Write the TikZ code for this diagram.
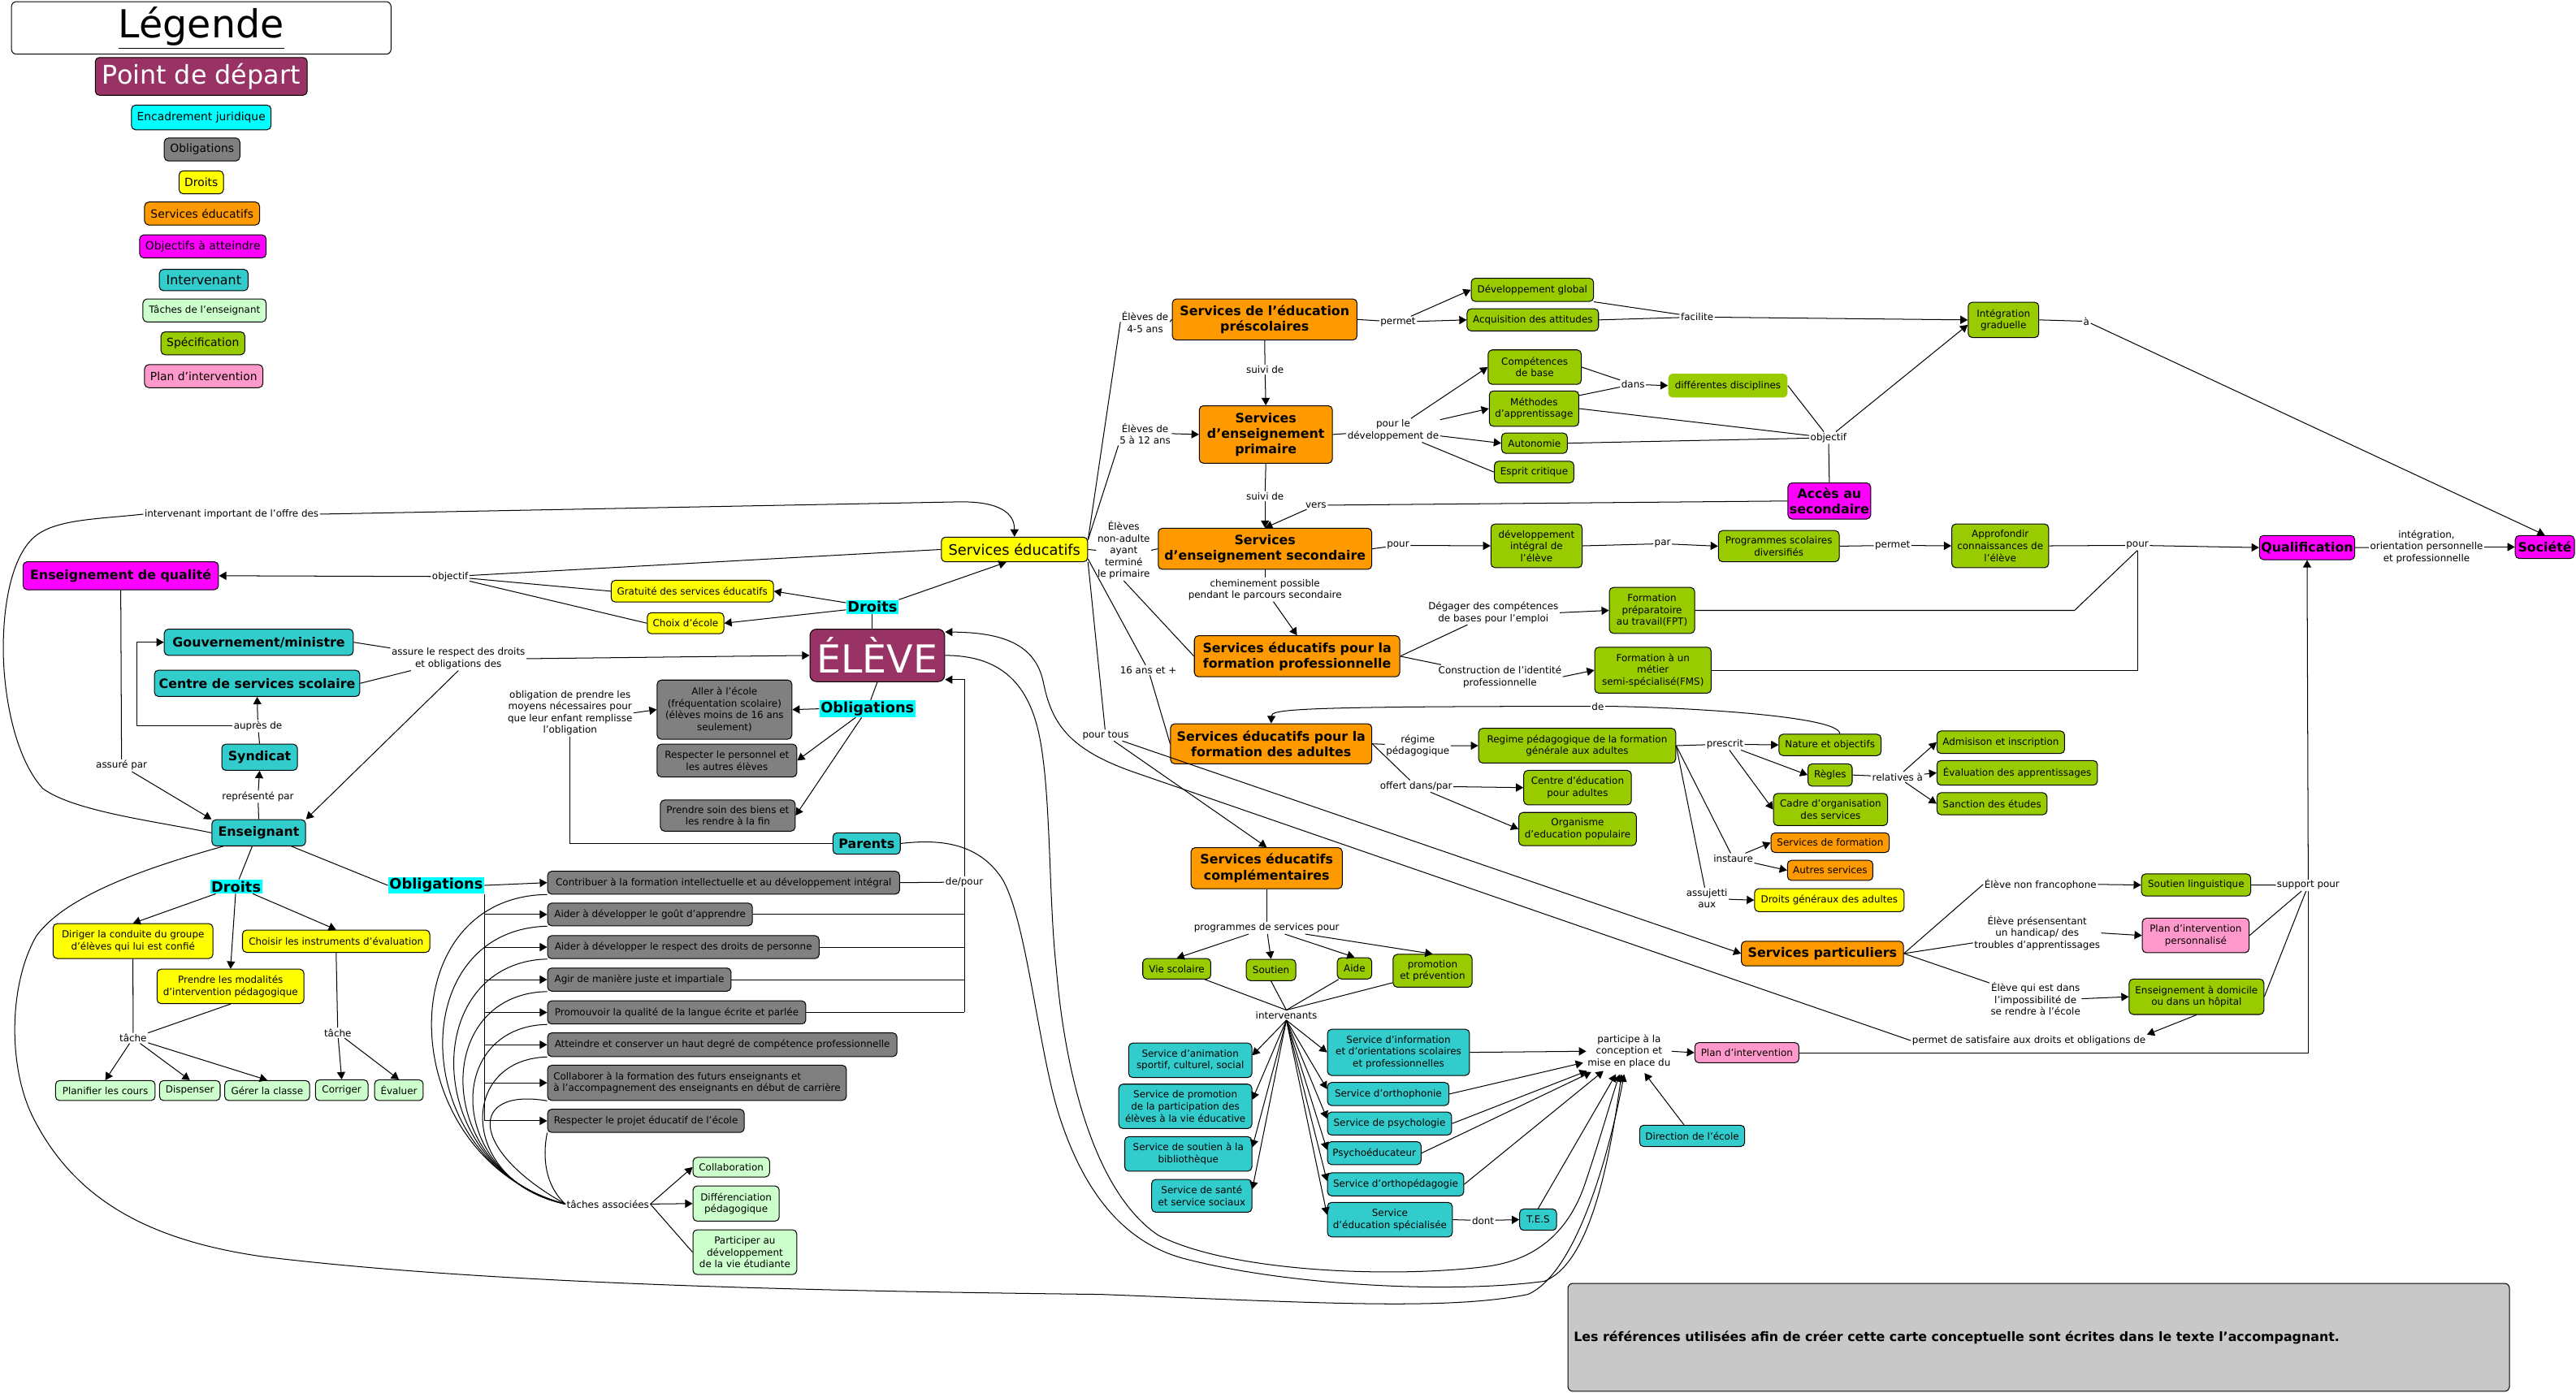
\documentclass[tikz,border=0pt]{standalone}
\usepackage{fontspec}
\setmainfont{DejaVu Sans}
\usetikzlibrary{arrows.meta,calc}
\definecolor{cmaroon}{RGB}{153,51,102}
\definecolor{ccyan}{RGB}{0,255,255}
\definecolor{cgray}{RGB}{128,128,128}
\definecolor{cyel}{RGB}{255,255,0}
\definecolor{corange}{RGB}{255,153,0}
\definecolor{cmag}{RGB}{255,0,255}
\definecolor{cteal}{RGB}{51,204,204}
\definecolor{clgreen}{RGB}{204,255,204}
\definecolor{cygreen}{RGB}{153,204,0}
\definecolor{cpink}{RGB}{255,153,204}
\definecolor{crefs}{RGB}{200,200,200}
\newcommand\fs{\fontsize{5.9}{7.2}\selectfont}
\newcommand\fb{\fontsize{7.84}{9.5}\selectfont\bfseries}
\newcommand\fl{\fontsize{6.86}{8.3}\selectfont}
\newcommand\ndx[7]{\node[#6,minimum width={(#4-#2)*1pt},minimum height={(#5-#3)*1pt}] (#1) at ({(#2+#4)/2},{(#3+#5)/2}) {#7};}
\newcommand\lbx[4]{\node[lbl] (#1) at (#2,#3) {#4};}
\tikzset{
  bx/.style={draw=black,line width=0.5pt,rounded corners=2.5pt,inner sep=1pt,align=center,font=\fs},
  bt/.style={bx,font=\fb},
  lbl/.style={fill=white,inner sep=0.6pt,align=center,font=\fs},
  hl/.style={fill=ccyan,inner sep=0.8pt,font=\fontsize{8.8}{10}\selectfont\bfseries},
  con/.style={line width=0.5pt},
  arr/.style={con,-{Triangle[length=4.5pt,width=5pt]}}
}
\begin{document}
\begin{tikzpicture}[x=1pt,y=-1pt]
\useasboundingbox (0,0) rectangle (1568,847.6);
% ---------------- legend
\ndx{legende}{7}{1}{238}{33}{bx,rounded corners=3pt,font=\fontsize{23.5}{26}\selectfont}{\underline{Légende}}
\ndx{pdd}{58}{35}{187}{58}{bx,fill=cmaroon,text=white,font=\fontsize{15.7}{18}\selectfont}{Point de départ}
\ndx{lg1}{80}{64}{165}{79}{bx,fill=ccyan,font=\fl}{Encadrement juridique}
\ndx{lg2}{100}{84}{146}{98}{bx,fill=cgray,font=\fl}{Obligations}
\ndx{lg3}{109}{104}{136}{118}{bx,fill=cyel,font=\fl}{Droits}
\ndx{lg4}{88}{123}{158}{137}{bx,fill=corange,font=\fl}{Services éducatifs}
\ndx{lg5}{85}{143}{162}{157}{bx,fill=cmag,font=\fl}{Objectifs à atteindre}
\ndx{lg6}{97}{164}{151}{177}{bx,fill=cteal,font=\fontsize{7.84}{9.5}\selectfont}{Intervenant}
\ndx{lg7}{87}{182}{162}{196}{bx,fill=clgreen}{Tâches de l'enseignant}
\ndx{lg8}{98}{202}{149}{216}{bx,fill=cygreen,font=\fl}{Spécification}
\ndx{lg9}{88}{222}{160}{236}{bx,fill=cpink,font=\fl}{Plan d'intervention}
% ---------------- left cluster
\ndx{eq}{14}{342}{133}{359}{bt,fill=cmag}{Enseignement de qualité}
\ndx{gouv}{100}{383}{215}{399}{bt,fill=cteal}{Gouvernement/ministre}
\ndx{css}{94}{408}{219}{424}{bt,fill=cteal}{Centre de services scolaire}
\ndx{synd}{135}{453}{181}{469}{bt,fill=cteal}{Syndicat}
\ndx{ens}{129}{499}{186}{515}{bt,fill=cteal}{Enseignant}
\node[hl] (droitsE) at (143.7,539.7) {Droits};
\node[hl] (oblE) at (265.5,539) {Obligations};
\ndx{dir}{32.3}{562.3}{129.6}{583.5}{bx,fill=cyel}{Diriger la conduite du groupe\\d'élèves qui lui est confié}
\ndx{chois}{147.6}{566.2}{261.6}{579.8}{bx,fill=cyel}{Choisir les instruments d'évaluation}
\ndx{pren}{95.6}{590}{185}{611}{bx,fill=cyel}{Prendre les modalités\\d'intervention pédagogique}
\lbx{tache1}{81}{632}{tâche}
\lbx{tache2}{205.6}{628.8}{tâche}
\ndx{plan1}{33.8}{657.8}{94.4}{670}{bx,fill=clgreen}{Planifier les cours}
\ndx{disp}{97.1}{657.8}{134}{670}{bx,fill=clgreen}{Dispenser}
\ndx{gerer}{136.8}{657.8}{188.5}{670}{bx,fill=clgreen}{Gérer la classe}
\ndx{corr}{192}{657.4}{224}{670}{bx,fill=clgreen}{Corriger}
\ndx{eval}{228}{657.4}{257.6}{670}{bx,fill=clgreen}{Évaluer}
\ndx{o1}{333.3}{530.4}{547.6}{544.3}{bx,fill=cgray}{Contribuer à la formation intellectuelle et au développement intégral}
\ndx{o2}{333.3}{549.8}{458}{563.6}{bx,fill=cgray}{Aider à développer le goût d'apprendre}
\ndx{o3}{333.3}{569.6}{498.6}{583.6}{bx,fill=cgray}{Aider à développer le respect des droits de personne}
\ndx{o4}{333.3}{589.3}{445}{603.4}{bx,fill=cgray}{Agir de manière juste et impartiale}
\ndx{o5}{333.3}{609.3}{490.5}{623.4}{bx,fill=cgray}{Promouvoir la qualité de la langue écrite et parlée}
\ndx{o6}{333.3}{628.8}{546}{643.2}{bx,fill=cgray}{Atteindre et conserver un haut degré de compétence professionnelle}
\ndx{o7}{333.3}{648.5}{515.2}{669.9}{bx,fill=cgray,align=left}{Collaborer à la formation des futurs enseignants et\\à l'accompagnement des enseignants en début de carrière}
\ndx{o8}{333.3}{675.3}{453}{689.4}{bx,fill=cgray}{Respecter le projet éducatif de l'école}
\lbx{tachesA}{370}{733}{tâches associées}
\ndx{collab}{421.8}{704.6}{468.4}{716.5}{bx,fill=clgreen}{Collaboration}
\ndx{diff}{421.8}{722}{474.3}{743.4}{bx,fill=clgreen}{Différenciation\\pédagogique}
\ndx{partic2}{421.8}{748.7}{485}{775.9}{bx,fill=clgreen}{Participer au\\développement\\de la vie étudiante}
% ---------------- middle
\ndx{servE}{573}{327}{662}{342}{bx,fill=cyel,font=\fontsize{8.8}{10.5}\selectfont}{Services éducatifs}
\ndx{grat}{372}{353.3}{470.8}{366.5}{bx,fill=cyel}{Gratuité des services éducatifs}
\ndx{choix}{394}{373}{440.6}{385.8}{bx,fill=cyel}{Choix d'école}
\node[hl] (droitsL) at (531,369.5) {Droits};
\ndx{eleve}{493}{383}{575}{415}{bx,fill=cmaroon,text=white,rounded corners=4pt,font=\fontsize{23.5}{26}\selectfont}{ÉLÈVE}
\node[hl] (oblL) at (528,431.5) {Obligations};
\ndx{aller}{400}{414}{482}{450}{bx,fill=cgray}{Aller à l'école\\(fréquentation scolaire)\\(élèves moins de 16 ans\\seulement)}
\ndx{respP}{400}{453}{485}{473}{bx,fill=cgray}{Respecter le personnel et\\les autres élèves}
\ndx{prendS}{402}{487}{484}{506}{bx,fill=cgray}{Prendre soin des biens et\\les rendre à la fin}
\ndx{parents}{507}{507}{548}{520}{bt,fill=cteal}{Parents}
\lbx{oblPar}{347}{434}{obligation de prendre les\\moyens nécessaires pour\\que leur enfant remplisse\\l'obligation}
\lbx{depour}{587}{537}{de/pour}
\lbx{assure}{279}{401}{assure le respect des droits\\et obligations des}
\lbx{objL}{274}{351}{objectif}
\lbx{aupres}{157}{442}{auprès de}
\lbx{repr}{157}{485}{représenté par}
\lbx{assurePar}{74}{466}{assuré par}
\lbx{interv}{141}{313}{intervenant important de l'offre des}
% ---------------- orange column
\ndx{presc}{713.6}{182}{826}{207}{bt,fill=corange}{Services de l'éducation\\préscolaires}
\lbx{lab45}{697}{196}{Élèves de\\4-5 ans}
\lbx{suivi1}{770}{225}{suivi de}
\ndx{prim}{730}{247}{811}{282}{bt,fill=corange}{Services\\d'enseignement\\primaire}
\lbx{lab512}{697}{264}{Élèves de\\5 à 12 ans}
\lbx{suivi2}{770}{302}{suivi de}
\ndx{sec}{705}{321.6}{835}{346.6}{bt,fill=corange}{Services\\d'enseignement secondaire}
\lbx{labNA}{684}{335}{Élèves\\non-adulte\\ayant\\terminé\\le primaire}
\lbx{chem}{770}{359}{cheminement possible\\pendant le parcours secondaire}
\ndx{fpro}{727}{387}{852}{412}{bt,fill=corange}{Services éducatifs pour la\\formation professionnelle}
\lbx{lab16}{699}{408}{16 ans et +}
\ndx{fad}{712.5}{440.6}{835}{465}{bt,fill=corange}{Services éducatifs pour la\\formation des adultes}
\lbx{pourtous}{673}{447.6}{pour tous}
\ndx{comp}{725}{516}{817}{541}{bt,fill=corange}{Services éducatifs\\complémentaires}
\lbx{progS}{771}{565}{programmes de services pour}
\ndx{vie}{695.6}{583.5}{737}{596}{bx,fill=cygreen}{Vie scolaire}
\ndx{sout}{758.6}{584}{788.7}{597}{bx,fill=cygreen}{Soutien}
\ndx{aide}{814}{583}{835}{596}{bx,fill=cygreen}{Aide}
\ndx{promo}{848}{581}{896}{601}{bx,fill=cygreen}{promotion\\et prévention}
\lbx{intervs}{783}{618}{intervenants}
\ndx{anim}{687}{635}{762}{656}{bx,fill=cteal}{Service d'animation\\sportif, culturel, social}
\ndx{promP}{681}{660}{762}{687}{bx,fill=cteal}{Service de promotion\\de la participation des\\élèves à la vie éducative}
\ndx{biblio}{684.6}{692}{762}{713}{bx,fill=cteal}{Service de soutien à la\\bibliothèque}
\ndx{sante}{701}{718}{762}{738}{bx,fill=cteal}{Service de santé\\et service sociaux}
\ndx{info}{808}{626.6}{894.5}{654.7}{bx,fill=cteal}{Service d’information\\et d’orientations scolaires\\et professionnelles}
\ndx{ortho}{808}{659}{882}{673}{bx,fill=cteal}{Service d’orthophonie}
\ndx{psy}{808}{677}{883.6}{691}{bx,fill=cteal}{Service de psychologie}
\ndx{psyed}{808}{695}{865}{709}{bx,fill=cteal}{Psychoéducateur}
\ndx{orthop}{808}{714}{891}{728}{bx,fill=cteal}{Service d'orthopédagogie}
\ndx{edspe}{808}{732}{884}{753}{bx,fill=cteal}{Service\\d'éducation spécialisée}
\lbx{dont}{902.7}{743}{dont}
\ndx{tes}{925}{736}{947.5}{749}{bx,fill=cteal}{T.E.S}
\lbx{partic}{991.6}{640}{participe à la\\conception et\\mise en place du}
\ndx{planI}{1031.6}{634.7}{1095}{647}{bx,fill=cpink}{Plan d'intervention}
\ndx{direc}{998}{685}{1062}{698}{bx,fill=cteal}{Direction de l'école}
% ---------------- upper right
\lbx{permet1}{851}{196}{permet}
\ndx{devg}{895.5}{169.4}{970}{183.5}{bx,fill=cygreen}{Développement global}
\ndx{acq}{893}{188}{973}{201.5}{bx,fill=cygreen}{Acquisition des attitudes}
\lbx{facil}{1033}{193}{facilite}
\ndx{compB}{905.8}{213}{962.5}{234}{bx,fill=cygreen}{Compétences\\de base}
\ndx{meth}{906.5}{238}{961}{259.5}{bx,fill=cygreen}{Méthodes\\d'apprentissage}
\ndx{auto}{914}{263.6}{954}{276}{bx,fill=cygreen}{Autonomie}
\ndx{esprit}{909.6}{280.8}{958}{294}{bx,fill=cygreen}{Esprit critique}
\lbx{pourDev}{848}{262}{pour le\\développement de}
\lbx{dans}{994}{234}{dans}
\ndx{diffD}{1015.5}{227.5}{1088}{242}{bx,draw=none,fill=cygreen}{différentes disciplines}
\lbx{objR}{1113}{266.5}{objectif}
\ndx{integ}{1198}{184}{1241}{205.5}{bx,fill=cygreen}{Intégration\\graduelle}
\lbx{aLab}{1270}{195.6}{à}
\ndx{acces}{1089}{294}{1138}{316}{bt,fill=cmag}{Accès au\\secondaire}
\lbx{vers}{801}{307.6}{vers}
\lbx{pourS}{851}{332}{pour}
\ndx{devI}{907.5}{319}{963}{345.6}{bx,fill=cygreen}{développement\\intégral de\\l'élève}
\lbx{par}{1012}{331}{par}
\ndx{progD}{1046}{323}{1119.5}{342}{bx,fill=cygreen}{Programmes scolaires\\diversifiés}
\lbx{permet2}{1152}{332}{permet}
\ndx{appro}{1188}{319}{1247}{345.6}{bx,fill=cygreen}{Approfondir\\connaissances de\\l'élève}
\lbx{pour2}{1301}{332}{pour}
\ndx{qual}{1376}{326}{1432.6}{340.7}{bt,fill=cmag}{Qualification}
\lbx{integO}{1477}{333}{intégration,\\orientation personnelle\\et professionnelle}
\ndx{soc}{1531}{326}{1567}{340}{bt,fill=cmag}{Société}
\lbx{degager}{909}{373}{Dégager des compétences\\de bases pour l'emploi}
\ndx{fpt}{979.6}{357.6}{1031.5}{385.6}{bx,fill=cygreen}{Formation\\préparatoire\\au travail(FPT)}
\lbx{constr}{913}{412}{Construction de l'identité\\professionnelle}
\ndx{fms}{970.7}{394}{1041.6}{422}{bx,fill=cygreen}{Formation à un\\métier\\semi-spécialisé(FMS)}
\lbx{deLab}{972.6}{430}{de}
% ---------------- adults
\lbx{regLab}{863}{454}{régime\\pédagogique}
\ndx{regime}{900}{443.4}{1020}{464.5}{bx,fill=cygreen}{Regime pédagogique de la formation\\générale aux adultes}
\lbx{offert}{862}{478.6}{offert dans/par}
\ndx{cea}{927.5}{469}{993}{490}{bx,fill=cygreen}{Centre d'éducation\\pour adultes}
\ndx{org}{924.5}{494.6}{996}{514.8}{bx,fill=cygreen}{Organisme\\d'education populaire}
\lbx{prescrit}{1050}{453}{prescrit}
\ndx{nat}{1082.8}{447}{1145}{460}{bx,fill=cygreen}{Nature et objectifs}
\ndx{regles}{1100.5}{465}{1127.4}{478.6}{bx,fill=cygreen}{Règles}
\lbx{relat}{1155}{473}{relatives à}
\ndx{adm}{1179}{445}{1256.7}{458.7}{bx,fill=cygreen}{Admisison et inscription}
\ndx{evalA}{1179}{463}{1276.7}{478}{bx,fill=cygreen}{Évaluation des apprentissages}
\ndx{sanc}{1179}{482.6}{1246}{496}{bx,fill=cygreen}{Sanction des études}
\ndx{cadre}{1079.5}{483}{1149}{502.6}{bx,fill=cygreen}{Cadre d'organisation\\des services}
\ndx{sform}{1078}{507}{1150}{519}{bx,fill=corange}{Services de formation}
\lbx{instaure}{1055}{522.5}{instaure}
\ndx{autres}{1088}{523.7}{1140}{536}{bx,fill=corange}{Autres services}
\lbx{assuj}{1039}{547}{assujetti\\aux}
\ndx{droitsG}{1068}{541}{1159}{555}{bx,fill=cyel}{Droits généraux des adultes}
% ---------------- particuliers
\ndx{spart}{1060}{573}{1158.6}{588}{bt,fill=corange}{Services particuliers}
\lbx{lnf}{1242}{538.4}{Élève non francophone}
\ndx{soutL}{1303.5}{532}{1370}{545.5}{bx,fill=cygreen}{Soutien linguistique}
\lbx{supp}{1405}{539}{support pour}
\lbx{lhand}{1240}{568}{Élève présensentant\\un handicap/ des\\troubles d'apprentissages}
\ndx{pip}{1304}{559}{1369}{580}{bx,fill=cpink}{Plan d'intervention\\personnalisé}
\lbx{limp}{1239}{608}{Élève qui est dans\\l'impossibilité de\\se rendre à l'école}
\ndx{ensD}{1296}{596}{1378}{617.6}{bx,fill=cygreen}{Enseignement à domicile\\ou dans un hôpital}
\lbx{permS}{1235}{633.5}{permet de satisfaire aux droits et obligations de}
% ---------------- references
\ndx{refs}{954.4}{781.3}{1527.5}{847}{bx,fill=crefs,rounded corners=3pt}{}
\node[anchor=west,inner sep=0pt,font=\fontsize{7.84}{9.5}\selectfont\bfseries] (reftxt) at ([xshift=3.6pt,yshift=-0.3pt]refs.west) {Les références utilisées afin de créer cette carte conceptuelle sont écrites dans le texte l'accompagnant.};
% ================= connectors
% services éducatifs / objectif
\draw[con] (servE.west) -- (objL);
\draw[con] (grat.west) -- (objL);
\draw[con] (choix.west) -- (objL);
\draw[arr] (objL) -- (eq.east);
% intervenant important
\draw[con] (ens.west) .. controls (95,500) and (45,494) .. (26,480) .. controls (8,460) and (2,420) .. (2,395) .. controls (2,360) and (10,335) .. (22,326) .. controls (35,316) and (60,316) .. (interv.west);
\draw[arr] (interv.east) -- (585,305.5) .. controls (608,305.5) and (617.5,312) .. (servE.north);
% droits eleve
\draw[con] (droitsL.south) -- (droitsL.south |- eleve.north);
\draw[arr] (droitsL.north east) -- ([xshift=-5pt]servE.south);
\draw[arr] (droitsL) -- (grat.east);
\draw[arr] (droitsL) -- (choix.east);
% obligations eleve
\draw[con] (eleve.south) -- (oblL);
\draw[arr] (oblL.west) -- (aller.east);
\draw[arr] (oblL) -- (respP.east);
\draw[arr] (oblL) -- (prendS.east);
% assure le respect
\draw[con] (gouv.east) -- (assure);
\draw[con] (css.east) -- (assure);
\draw[arr] (assure.east) -- (eleve.west);
\draw[arr] (assure.south) -- (ens.north east);
% assuré par
\draw[con] (eq.south) -- (assurePar);
\draw[arr] (assurePar) -- (ens.north west);
% représenté / auprès
\draw[con] (ens.north) -- (repr);
\draw[arr] (repr) -- (synd.south);
\draw[con] (synd.north) -- (aupres);
\draw[arr] (aupres) -- (css.south);
\draw[arr] (aupres.west) -- ++(-58,0) |- (gouv.west);
% enseignant droits / obligations
\draw[con] ([xshift=-4pt]ens.south) -- (droitsE);
\draw[con] ([xshift=20pt]ens.south) -- (oblE.west);
\draw[arr] (droitsE) -- (dir.north);
\draw[arr] (droitsE) -- (pren.north);
\draw[arr] (droitsE) -- (chois.north);
\draw[con] (dir.south) -- (tache1);
\draw[con] (pren.south) -- (tache1);
\draw[arr] (tache1) -- (plan1.north);
\draw[arr] (tache1) -- (disp.north);
\draw[arr] (tache1) -- (gerer.north);
\draw[con] (chois.south) -- (tache2);
\draw[arr] (tache2) -- (corr.north);
\draw[arr] (tache2) -- (eval.north);
% obligations enseignant
\draw[arr] (oblE.east) -- (o1.west);
\draw[con] (oblE.south east) -- (oblE.south east |- o8.west);
\foreach \o in {o2,o3,o4,o5,o6,o7,o8} {\draw[arr] (oblE.south east |- \o.west) -- (\o.west);}
% de/pour
\draw[con] (o1.east) -- (depour);
\draw[con] (depour.south) -- (depour.south |- o5.east);
\foreach \o in {o2,o3,o4,o5} {\draw[con] (\o.east) -- (\o.east -| depour.south);}
\draw[arr] (depour.north) |- ([yshift=1.5pt]eleve.south east);
% tâches associées
\draw[con] (o1.south west) .. controls (235,546) and (240,705) .. (tachesA.west);
\draw[con] (o2.south west) .. controls (245,566) and (248,708) .. (tachesA.west);
\draw[con] (o3.south west) .. controls (255,586) and (256,711) .. (tachesA.west);
\draw[con] (o4.south west) .. controls (262,605) and (264,714) .. (tachesA.west);
\draw[con] (o5.south west) .. controls (270,625) and (272,717) .. (tachesA.west);
\draw[con] (o6.south west) .. controls (278,645) and (280,720) .. (tachesA.west);
\draw[con] (o7.south west) .. controls (285,662) and (285,700) .. (tachesA.west);
\draw[con] (o8.south west) .. controls (330,705) and (332,722) .. (tachesA.west);
\draw[arr] (tachesA.east) -- (collab.west);
\draw[arr] (tachesA.east) -- (diff.west);
\draw[con] (tachesA.east) -- (partic2.west);
% parents
\draw[con] (parents.west) -| (oblPar.south);
\draw[arr] (oblPar.east) -- (aller.west);
% services éducatifs -> orange
\draw[con] ([yshift=-2pt]servE.north east) -- (lab45.west);
\draw[con] (lab45.east) -- (presc.west);
\draw[con] ([yshift=-2pt]servE.north east) -- (lab512.south west);
\draw[arr] (lab512.east) -- (prim.west);
\draw[con] (servE.east) -- (labNA.west);
\draw[con] (labNA.east) -- (sec.west);
\draw[con] (labNA.south) -- (fpro.west);
\draw[con] ([yshift=2pt]servE.south east) -- (lab16) -- (fad.west);
\draw[con] (servE.south east) -- (pourtous);
\draw[arr] (pourtous) -- (comp.north);
\draw[arr] (pourtous) -- (spart.west);
% suivi de
\draw[con] (presc.south) -- (suivi1);
\draw[arr] (suivi1) -- (prim.north);
\draw[con] (prim.south) -- (suivi2);
\draw[arr] (suivi2) -- (sec.north);
\draw[con] (acces.west) -- (vers);
\draw[arr] (vers) -- (sec.north);
% permet / facilite
\draw[con] (presc.east) -- (permet1);
\draw[arr] (permet1) -- (devg.west);
\draw[arr] (permet1) -- (acq.west);
\draw[con] (devg.south east) -- (facil);
\draw[con] (acq.east) -- (facil);
\draw[arr] (facil) -- (integ.west);
% pour le développement de
\draw[con] (prim.east) -- (pourDev);
\draw[arr] (pourDev) -- (compB.west);
\draw[arr] (pourDev) -- (meth.west);
\draw[arr] (pourDev) -- (auto.west);
\draw[con] (pourDev) -- (esprit.west);
\draw[con] (compB.east) -- (dans);
\draw[con] ([yshift=-3pt]meth.north east) -- (dans);
\draw[arr] (dans) -- (diffD.west);
% objectif right
\draw[con] (diffD.east) -- (objR);
\draw[con] (meth.east) -- (objR);
\draw[con] (auto.east) -- (objR);
\draw[con] (acces.north) -- (objR);
\draw[arr] (objR) -- ([yshift=-3pt]integ.west);
\draw[con] (integ.east) -- (aLab);
\draw[arr] (aLab) -- (soc.north);
% secondaire chain
\draw[con] (sec.east) -- (pourS);
\draw[arr] (pourS) -- (devI.west);
\draw[con] (devI.east) -- (par);
\draw[arr] (par) -- (progD.west);
\draw[con] (progD.east) -- (permet2);
\draw[arr] (permet2) -- (appro.west);
\draw[con] (appro.east) -- (pour2);
\draw[arr] (pour2) -- (qual.west);
\draw[con] (fpt.east) -- ++(231,0) -- (pour2.south);
\draw[con] (fms.east) -| (pour2.south);
\draw[con] (qual.east) -- (integO);
\draw[arr] (integO) -- (soc.west);
% cheminement / FP
\draw[con] (sec.south) -- (chem);
\draw[arr] (chem) -- (fpro.north);
\draw[con] (fpro.east) -- (degager);
\draw[arr] (degager.east) -- (fpt.west);
\draw[con] (fpro.east) -- (constr);
\draw[arr] (constr.east) -- (fms.west);
% adults
\draw[con] (fad.east) -- (regLab);
\draw[arr] (regLab) -- (regime.west);
\draw[con] (fad.east) -- (offert);
\draw[arr] (offert) -- (cea.west);
\draw[arr] (offert) -- (org.west);
\draw[con] ([xshift=6pt]nat.north) .. controls +(0,-12) and +(30,0) .. (deLab.east);
\draw[arr] (deLab.west) .. controls (785,430) and (774,432) .. (fad.north);
\draw[con] (regime.east) -- (prescrit);
\draw[arr] (prescrit) -- (nat.west);
\draw[arr] (prescrit) -- (regles.west);
\draw[arr] (prescrit) -- (cadre.west);
\draw[con] (regime.east) -- (instaure);
\draw[arr] (instaure) -- (sform.west);
\draw[arr] (instaure) -- (autres.west);
\draw[con] (regime.east) -- (assuj);
\draw[arr] (assuj) -- (droitsG.west);
\draw[con] (regles.east) -- (relat);
\draw[arr] (relat) -- (adm.west);
\draw[arr] (relat) -- (evalA.west);
\draw[arr] (relat) -- (sanc.west);
% complémentaires
\draw[con] (comp.south) -- (progS);
\draw[arr] (progS) -- (vie.north);
\draw[arr] (progS) -- (sout.north);
\draw[arr] (progS) -- (aide.north);
\draw[arr] (progS) -- (promo.north);
\draw[con] ([xshift=-4pt]vie.south east) -- (intervs.north);
\draw[con] (sout.south) -- (intervs.north);
\draw[con] ([xshift=1pt]aide.south west) -- (intervs.north);
\draw[con] ([yshift=3pt]promo.south west) -- (intervs.north);
\draw[arr] (intervs.south) -- ([yshift=3pt]anim.east);
\draw[arr] (intervs.south) -- ([yshift=4pt]promP.east);
\draw[arr] (intervs.south) -- ([yshift=4pt]biblio.east);
\draw[arr] (intervs.south) -- ([yshift=4pt]sante.east);
\draw[arr] (intervs.south) -- (info.west);
\draw[arr] (intervs.south) -- ([yshift=3pt]ortho.west);
\draw[arr] (intervs.south) -- ([yshift=3pt]psy.west);
\draw[arr] (intervs.south) -- ([yshift=2pt]psyed.west);
\draw[arr] (intervs.south) -- ([yshift=2pt]orthop.west);
\draw[arr] (intervs.south) -- ([yshift=3pt]edspe.west);
% participe
\draw[arr] (info.east) -- (partic.west);
\draw[arr] (ortho.east) -- ([xshift=-28pt,yshift=4pt]partic.south);
\draw[arr] (psy.east) -- ([xshift=-25.6pt,yshift=-1pt]partic.south);
\draw[arr] (psyed.east) -- ([xshift=-23pt,yshift=-1.7pt]partic.south);
\draw[arr] (orthop.east) -- ([xshift=-15.6pt,yshift=-1pt]partic.south);
\draw[con] (edspe.east) -- (dont);
\draw[arr] (dont) -- (tes.west);
\draw[arr] (tes.north) -- ([xshift=-8pt,yshift=-3pt]partic.south);
\draw[arr] ([xshift=-5pt]direc.north) -- ([xshift=9.4pt,yshift=-2.3pt]partic.south);
\draw[arr] (partic.east) -- (planI.west);
% big curves
\draw[arr] (eleve.east) .. controls (608,399) and (625,415) .. (632,445) .. controls (640,480) and (638,545) .. (643,590) .. controls (648,650) and (665,725) .. (705,752) .. controls (750,775) and (850,778) .. (905,771) .. controls (935,767) and (955,750) .. (965,720) .. controls (975,690) and (982,665) .. ([xshift=-5.6pt,yshift=-3pt]partic.south);
\draw[arr] (parents.east) .. controls (570,511) and (595,512) .. (610,535) .. controls (625,560) and (632,640) .. (645,680) .. controls (658,720) and (680,755) .. (720,766) .. controls (780,782) and (880,788) .. (940,780) .. controls (965,770) and (978,720) .. ([xshift=-4.6pt,yshift=-3pt]partic.south);
\draw[arr] ([xshift=7pt]ens.south west) .. controls (90,528) and (40,545) .. (22,570) .. controls (5,600) and (5,650) .. (20,680) .. controls (45,730) and (90,755) .. (160,765) .. controls (300,782) and (500,786) .. (670,788) .. controls (800,793) and (880,798) .. (930,788) .. controls (960,775) and (980,700) .. ([xshift=-3pt,yshift=-3pt]partic.south);
\draw[arr] (permS.west) -- (690,470) .. controls (650,456) and (640,440) .. (635,415) .. controls (630,392) and (610,385) .. ([yshift=-2pt]eleve.north east);
% particuliers
\draw[con] (spart.east) -- (lnf.west);
\draw[arr] (lnf.east) -- (soutL.west);
\draw[con] (spart.east) -- (lhand);
\draw[arr] (lhand.east) -- (pip.west);
\draw[con] (spart.east) -- (limp);
\draw[arr] (limp.east) -- (ensD.west);
\draw[con] (soutL.east) -- (supp);
\draw[con] (pip.east) -- (supp);
\draw[con] (ensD.east) -- (supp);
\draw[arr] (supp.north) -- (qual.south);
\draw[con] (planI.east) -| (supp.south);
\draw[arr] (ensD.south) -- (permS.north east);
\end{tikzpicture}
\end{document}
